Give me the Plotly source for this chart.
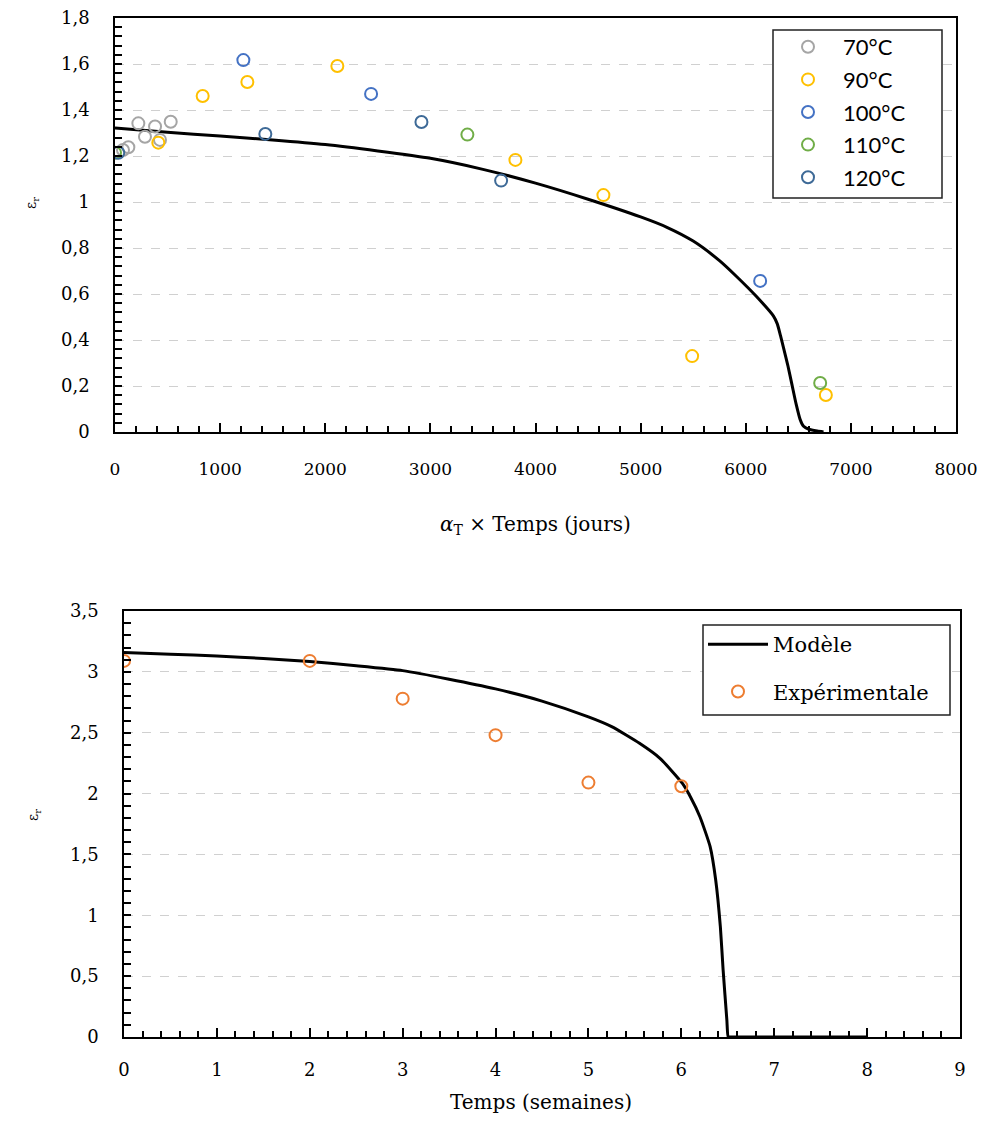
import plotly.graph_objects as go

# ---------- Top chart data ----------
top_series_names = ["70°C", "90°C", "100°C", "110°C", "120°C"]
top_colors = ["#A5A5A5", "#FFC000", "#4472C4", "#70AD47", "#3E6A97"]

x_70 = [76, 127, 222, 285, 381, 428, 530]
y_70 = [1.226, 1.238, 1.342, 1.284, 1.328, 1.27, 1.349]

x_90 = [412, 834, 1259, 2115, 3809, 4646, 5490, 6762]
y_90 = [1.258, 1.461, 1.522, 1.591, 1.183, 1.030, 0.330, 0.161]

x_100 = [1221, 2436, 6137]
y_100 = [1.617, 1.470, 0.657]

x_110 = [0, 3352, 6708]
y_110 = [1.214, 1.293, 0.213]

x_120 = [31, 1430, 2915, 3673]
y_120 = [1.214, 1.296, 1.348, 1.093]

model_top_x = [0, 500, 1000, 1500, 2000, 2500, 3000, 3500, 4000, 4500, 5000,
               5250, 5500, 5750, 5915, 6100, 6264, 6300, 6330, 6360, 6400,
               6440, 6480, 6517, 6550, 6600, 6680, 6740]
model_top_y = [1.322, 1.303, 1.287, 1.270, 1.250, 1.222, 1.190, 1.142, 1.082,
               1.012, 0.935, 0.890, 0.830, 0.745, 0.675, 0.590, 0.504, 0.470,
               0.420, 0.365, 0.290, 0.205, 0.120, 0.055, 0.025, 0.012, 0.004, 0.0]

# ---------- Bottom chart data ----------
exp_x = [0, 2, 3, 4, 5, 6]
exp_y = [3.09, 3.09, 2.78, 2.48, 2.09, 2.06]

model_bot_x = [0, 0.5, 1, 1.5, 2, 2.5, 3, 3.5, 4, 4.5, 5, 5.25, 5.55, 5.77,
               6.01, 6.1, 6.2, 6.31, 6.37, 6.42, 6.45, 6.49, 6.505, 6.53, 6.6,
               7, 8]
model_bot_y = [3.16, 3.145, 3.13, 3.11, 3.085, 3.05, 3.01, 2.94, 2.86, 2.76,
               2.63, 2.55, 2.413, 2.29, 2.085, 1.97, 1.81, 1.564, 1.29, 0.906,
               0.55, 0.14, 0.0, 0.0, 0.0, 0.0, 0.0]

OFF = 8  # page body margin
W, H = 975, 1135 - 2 * OFF
SERIF = "DejaVu Serif"

fig = go.Figure()

fig.add_trace(go.Scatter(x=model_top_x, y=model_top_y, mode="lines",
                         line=dict(color="black", width=3, shape="spline", smoothing=0.6),
                         showlegend=False, xaxis="x", yaxis="y", hoverinfo="skip"))

top_x = [x_70, x_90, x_100, x_110, x_120]
top_y = [y_70, y_90, y_100, y_110, y_120]
for name, col, xs, ys in zip(top_series_names, top_colors, top_x, top_y):
    fig.add_trace(go.Scatter(x=xs, y=ys, mode="markers", name=name,
                             marker=dict(symbol="circle-open", size=12, color=col,
                                         line=dict(width=2, color=col)),
                             xaxis="x", yaxis="y", legend="legend", legendgroup=name))

fig.add_trace(go.Scatter(x=model_bot_x, y=model_bot_y, mode="lines", name="Modèle",
                         line=dict(color="black", width=3, shape="spline", smoothing=0.5),
                         xaxis="x2", yaxis="y2", legend="legend2", legendgroup="m"))
fig.add_trace(go.Scatter(x=exp_x, y=exp_y, mode="markers", name="Expérimentale",
                         marker=dict(symbol="circle-open", size=12, color="#ED7D31",
                                     line=dict(width=2, color="#ED7D31")),
                         xaxis="x2", yaxis="y2", legend="legend2", legendgroup="e"))


def px_x(p):
    return (p - OFF) / W


def px_y(p):
    return 1 - (p - OFF) / H


axis_common = dict(showline=True, linecolor="black", linewidth=1.5, mirror=True,
                   ticks="inside", tickcolor="black", tickwidth=1.5,
                   ticklabeloverflow="allow",
                   zeroline=False, automargin=False)
tick_font = dict(family=SERIF, size=18, color="black")

fig.update_layout(
    width=W, height=H,
    margin=dict(l=0, r=0, t=0, b=0),
    paper_bgcolor="white", plot_bgcolor="white",
    separators=", ",
    showlegend=True,
    xaxis=dict(domain=[px_x(115), px_x(956)], range=[0, 8000], dtick=1000,
               ticklen=9, showgrid=False, anchor="y",
               tickfont=dict(family=SERIF, size=17, color="black"),
               minor=dict(dtick=200, ticks="inside", ticklen=6, tickcolor="black",
                          tickwidth=1.5, showgrid=False),
               ticklabelstandoff=21, **axis_common),
    yaxis=dict(domain=[px_y(432), px_y(18)], range=[0, 1.80001], dtick=0.2,
               ticklen=7, showgrid=True, gridcolor="#D0D0D0", griddash="dash",
               gridwidth=1, anchor="x", tickfont=tick_font,
               minor=dict(dtick=0.04, ticks="inside", ticklen=7, tickcolor="black",
                          tickwidth=1.5, showgrid=False),
               ticklabelstandoff=20, **axis_common),
    xaxis2=dict(domain=[px_x(124), px_x(960)], range=[0, 9], dtick=1,
                ticklen=9, showgrid=False, anchor="y2", tickfont=tick_font,
                minor=dict(dtick=0.2, ticks="inside", ticklen=6, tickcolor="black",
                           tickwidth=1.5, showgrid=False),
                ticklabelstandoff=16, **axis_common),
    yaxis2=dict(domain=[px_y(1037), px_y(611)], range=[0, 3.50001], dtick=0.5,
                ticklen=7, showgrid=True, gridcolor="#D0D0D0", griddash="dash",
                gridwidth=1, anchor="x2", tickfont=tick_font,
                minor=dict(dtick=0.1, ticks="inside", ticklen=7, tickcolor="black",
                           tickwidth=1.5, showgrid=False),
                ticklabelstandoff=20, **axis_common),
    legend=dict(x=px_x(773), y=px_y(26), xanchor="left", yanchor="top",
                bgcolor="rgba(0,0,0,0)", borderwidth=0,
                font=dict(family="Lato", size=22, color="black"),
                itemwidth=60, tracegroupgap=1),
    legend2=dict(x=px_x(703), y=px_y(624), xanchor="left", yanchor="top",
                 bgcolor="rgba(0,0,0,0)", borderwidth=0,
                 font=dict(family=SERIF, size=21, color="black"),
                 itemwidth=60, tracegroupgap=17),
)

# legend frames
fig.add_shape(type="rect", xref="paper", yref="paper",
              x0=px_x(773), x1=px_x(942), y0=px_y(198), y1=px_y(30),
              line=dict(color="#222222", width=1.5), fillcolor="white", layer="above")
fig.add_shape(type="rect", xref="paper", yref="paper",
              x0=px_x(703), x1=px_x(950), y0=px_y(715), y1=px_y(625),
              line=dict(color="#222222", width=1.5), fillcolor="white", layer="above")

annotations = [
    dict(text="<i>α</i><sub>T</sub> × Temps (jours)", x=px_x(535), y=px_y(525),
         xref="paper", yref="paper", showarrow=False,
         font=dict(family=SERIF, size=20, color="black")),
    dict(text="Temps (semaines)", x=px_x(541), y=px_y(1116),
         xref="paper", yref="paper", showarrow=False,
         font=dict(family=SERIF, size=20, color="black")),
    dict(text="ε<sub>r</sub>", x=px_x(21), y=px_y(195), textangle=-90,
         xref="paper", yref="paper", showarrow=False,
         font=dict(family=SERIF, size=14, color="black")),
    dict(text="ε<sub>r</sub>", x=px_x(23), y=px_y(823), textangle=-90,
         xref="paper", yref="paper", showarrow=False,
         font=dict(family=SERIF, size=14, color="black")),
]
fig.update_layout(annotations=annotations)

fig.write_html("out.html")
